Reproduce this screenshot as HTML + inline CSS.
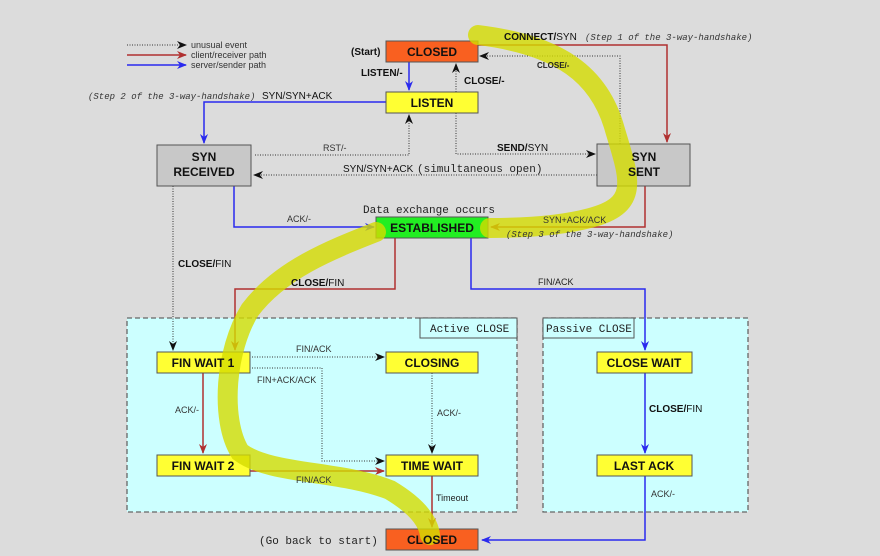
<!DOCTYPE html>
<html><head><style>
html,body{margin:0;padding:0;background:#dcdcdc;}
svg{display:block;font-family:"Liberation Sans",sans-serif;}
.b{font-weight:bold;font-size:12px;text-anchor:middle;fill:#111;}
.s{font-size:9px;fill:#333;}
.m{font-family:"Liberation Mono",monospace;font-size:9px;fill:#333;font-style:italic;}
.mm{font-family:"Liberation Mono",monospace;font-size:11px;fill:#222;}
</style></head><body>
<svg width="880" height="556" viewBox="0 0 880 556" xmlns="http://www.w3.org/2000/svg">
<defs>
<marker id="ak" markerWidth="10" markerHeight="8" refX="9" refY="4" orient="auto" markerUnits="userSpaceOnUse"><path d="M0,0 L10,4 L0,8 L3,4z" fill="#111"/></marker>
<marker id="ar" markerWidth="10" markerHeight="8" refX="9" refY="4" orient="auto" markerUnits="userSpaceOnUse"><path d="M0,0 L10,4 L0,8 L3,4z" fill="#b03030"/></marker>
<marker id="ab" markerWidth="10" markerHeight="8" refX="9" refY="4" orient="auto" markerUnits="userSpaceOnUse"><path d="M0,0 L10,4 L0,8 L3,4z" fill="#2a2aee"/></marker>
</defs>
<rect width="880" height="556" fill="#dcdcdc"/>
<!-- regions -->
<rect x="127" y="318" width="390" height="194" fill="#ccffff" stroke="#666" stroke-dasharray="5,3" stroke-width="1.3"/>
<rect x="420" y="318" width="97" height="20" fill="#ccffff" stroke="#555"/>
<text x="430" y="332" class="mm">Active CLOSE</text>
<rect x="543" y="318" width="205" height="194" fill="#ccffff" stroke="#666" stroke-dasharray="5,3" stroke-width="1.3"/>
<rect x="543" y="318" width="91" height="20" fill="#ccffff" stroke="#555"/>
<text x="546" y="332" class="mm">Passive CLOSE</text>
<!-- legend -->
<line x1="127" y1="45" x2="186" y2="45" stroke="#333" stroke-dasharray="1,1.5" marker-end="url(#ak)"/>
<line x1="127" y1="55" x2="186" y2="55" stroke="#b03030" stroke-width="1.5" marker-end="url(#ar)"/>
<line x1="127" y1="65" x2="186" y2="65" stroke="#2a2aee" stroke-width="1.5" marker-end="url(#ab)"/>
<text x="191" y="48" class="s" font-size="8">unusual event</text>
<text x="191" y="58" class="s" font-size="8">client/receiver path</text>
<text x="191" y="68" class="s" font-size="8">server/sender path</text>
<!-- connectors dotted -->
<g stroke="#333" stroke-dasharray="1,1.5" fill="none" stroke-width="1">
<polyline points="620,144 620,56 480,56" marker-end="url(#ak)"/>
<polyline points="456,92 456,64" marker-end="url(#ak)"/>
<polyline points="456,113 456,154 595,154" marker-end="url(#ak)"/>
<polyline points="255,155 409,155 409,115" marker-end="url(#ak)"/>
<polyline points="597,175 254,175" marker-end="url(#ak)"/>
<polyline points="173,186 173,350" marker-end="url(#ak)"/>
<polyline points="252,357 384,357" marker-end="url(#ak)"/>
<polyline points="252,368 322,368 322,461 384,461" marker-end="url(#ak)"/>
<polyline points="432,373 432,453" marker-end="url(#ak)"/>
</g>
<!-- red -->
<g stroke="#b03030" fill="none" stroke-width="1.5">
<polyline points="478,45 667,45 667,142" marker-end="url(#ar)"/>
<polyline points="645,186 645,227 491,227" marker-end="url(#ar)"/>
<polyline points="395,238 395,289 235,289 235,350" marker-end="url(#ar)"/>
<polyline points="203,373 203,453" marker-end="url(#ar)"/>
<polyline points="250,471 384,471" marker-end="url(#ar)"/>
<polyline points="432,476 432,527" marker-end="url(#ar)"/>
</g>
<!-- blue -->
<g stroke="#2a2aee" fill="none" stroke-width="1.5">
<polyline points="409,62 409,90" marker-end="url(#ab)"/>
<polyline points="386,102 204,102 204,143" marker-end="url(#ab)"/>
<polyline points="234,186 234,227 374,227" marker-end="url(#ab)"/>
<polyline points="471,238 471,289 645,289 645,350" marker-end="url(#ab)"/>
<polyline points="645,373 645,453" marker-end="url(#ab)"/>
<polyline points="645,476 645,540 482,540" marker-end="url(#ab)"/>
</g>
<!-- boxes -->
<g stroke="#555" stroke-width="1">
<rect x="386" y="41" width="92" height="21" fill="#f96020"/>
<rect x="386" y="92" width="92" height="21" fill="#ffff33"/>
<rect x="157" y="145" width="94" height="41" fill="#c8c8c8"/>
<rect x="597" y="144" width="93" height="42" fill="#c8c8c8"/>
<rect x="376" y="217" width="112" height="21" fill="#22ee22"/>
<rect x="157" y="352" width="93" height="21" fill="#ffff33"/>
<rect x="386" y="352" width="92" height="21" fill="#ffff33"/>
<rect x="157" y="455" width="93" height="21" fill="#ffff33"/>
<rect x="386" y="455" width="92" height="21" fill="#ffff33"/>
<rect x="597" y="352" width="95" height="21" fill="#ffff33"/>
<rect x="597" y="455" width="95" height="21" fill="#ffff33"/>
<rect x="386" y="529" width="92" height="21" fill="#f96020"/>
</g>
<!-- highlighter -->
<path d="M478,35 C560,45 600,75 615,130 C630,180 640,205 590,218 C560,226 520,228 490,228 M376,232 C330,250 280,270 250,310 C225,350 220,420 240,452 C270,475 340,470 390,490 C415,505 428,520 430,535" fill="none" stroke="#d4dc00" stroke-opacity="0.8" stroke-width="20" stroke-linecap="round"/>
<!-- box labels -->
<text x="432" y="56" class="b">CLOSED</text>
<text x="432" y="107" class="b">LISTEN</text>
<text x="204" y="161" class="b">SYN</text>
<text x="204" y="176" class="b">RECEIVED</text>
<text x="644" y="161" class="b">SYN</text>
<text x="644" y="176" class="b">SENT</text>
<text x="432" y="232" class="b">ESTABLISHED</text>
<text x="203" y="367" class="b">FIN WAIT 1</text>
<text x="432" y="367" class="b">CLOSING</text>
<text x="203" y="470" class="b">FIN WAIT 2</text>
<text x="432" y="470" class="b">TIME WAIT</text>
<text x="644" y="367" class="b">CLOSE WAIT</text>
<text x="644" y="470" class="b">LAST ACK</text>
<text x="432" y="544" class="b">CLOSED</text>
<!-- edge labels -->
<text x="351" y="55" font-size="10" font-weight="bold" fill="#111">(Start)</text>
<text x="361" y="76" font-size="10" font-weight="bold" fill="#111">LISTEN/-</text>
<text x="464" y="84" font-size="10" font-weight="bold" fill="#111">CLOSE/-</text>
<text x="537" y="68" font-size="8" font-weight="bold" fill="#222">CLOSE/-</text>
<text x="504" y="40" font-size="10" fill="#111"><tspan font-weight="bold">CONNECT/</tspan>SYN</text>
<text x="585" y="40" class="m">(Step 1 of the 3-way-handshake)</text>
<text x="88" y="99" class="m">(Step 2 of the 3-way-handshake)</text>
<text x="262" y="99" font-size="10" fill="#111">SYN/SYN+ACK</text>
<text x="323" y="151" class="s" font-size="8">RST/-</text>
<text x="497" y="151" font-size="10" fill="#111"><tspan font-weight="bold">SEND/</tspan>SYN</text>
<text x="343" y="172" font-size="10" fill="#111">SYN/SYN+ACK</text>
<text x="417" y="172" class="mm" font-size="9">(simultaneous open)</text>
<text x="363" y="213" class="mm" font-size="12">Data exchange occurs</text>
<text x="543" y="223" class="s" font-size="8">SYN+ACK/ACK</text>
<text x="506" y="237" class="m">(Step 3 of the 3-way-handshake)</text>
<text x="287" y="222" class="s" font-size="8">ACK/-</text>
<text x="178" y="267" font-size="10" fill="#111"><tspan font-weight="bold">CLOSE/</tspan>FIN</text>
<text x="291" y="286" font-size="10" fill="#111"><tspan font-weight="bold">CLOSE/</tspan>FIN</text>
<text x="538" y="285" font-size="9" fill="#222">FIN/ACK</text>
<text x="296" y="352" class="s" font-size="8">FIN/ACK</text>
<text x="257" y="383" class="s" font-size="8">FIN+ACK/ACK</text>
<text x="175" y="413" class="s" font-size="8">ACK/-</text>
<text x="437" y="416" class="s" font-size="8">ACK/-</text>
<text x="296" y="483" class="s" font-size="8">FIN/ACK</text>
<text x="436" y="501" font-size="9" fill="#222">Timeout</text>
<text x="649" y="412" font-size="10" fill="#111"><tspan font-weight="bold">CLOSE/</tspan>FIN</text>
<text x="651" y="497" class="s" font-size="8">ACK/-</text>
<text x="259" y="544" class="mm" font-size="12">(Go back to start)</text>
</svg>
</body></html>
